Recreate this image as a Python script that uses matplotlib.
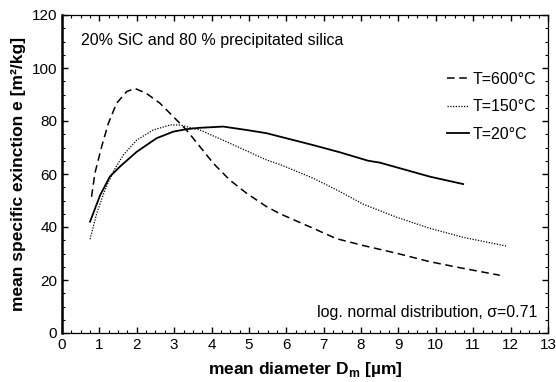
import numpy as np
import matplotlib
matplotlib.use("Agg")
import matplotlib.pyplot as plt
from matplotlib.ticker import MultipleLocator

plt.rcParams['font.family'] = ['Liberation Sans', 'DejaVu Sans']

# T = 600 °C (dashed)
x600 = [0.79, 0.88, 1.06, 1.24, 1.46, 1.73, 1.95, 2.26, 2.62, 2.98, 3.33, 3.69, 4.05, 4.49, 4.94, 5.47, 5.83, 6.72, 7.34, 8.06, 8.95, 9.84, 10.73, 11.71]
y600 = [51.4, 60.3, 70.3, 79.1, 86.7, 91.1, 92.3, 90.4, 86.7, 81.6, 76.6, 70.3, 64.0, 57.7, 52.7, 47.7, 45.0, 39.5, 35.6, 33.0, 30.1, 26.9, 24.4, 21.8]

# T = 150 °C (dotted)
x150 = [0.75, 0.93, 1.15, 1.37, 1.64, 2.0, 2.44, 2.89, 3.16, 3.69, 4.49, 5.47, 5.83, 6.72, 7.43, 8.06, 8.95, 9.84, 10.73, 11.89]
y150 = [35.4, 45.2, 54.0, 60.9, 67.2, 72.8, 76.6, 78.5, 78.5, 76.6, 71.6, 65.3, 63.6, 58.4, 53.4, 48.6, 43.7, 39.5, 36.1, 32.8]

# T = 20 °C (solid)
x20 = [0.75, 1.02, 1.28, 1.55, 2.0, 2.53, 2.98, 3.33, 3.65, 4.31, 4.94, 5.47, 5.83, 6.72, 7.43, 8.19, 8.5, 9.84, 10.73]
y20 = [42.0, 52.0, 59.0, 62.8, 68.4, 73.5, 76.0, 76.9, 77.4, 77.9, 76.6, 75.4, 74.1, 70.9, 68.2, 65.0, 64.3, 59.0, 56.2]

xticks = list(range(0, 14))
yticks = [0, 20, 40, 60, 80, 100, 120]

fig = plt.figure(figsize=(5.56, 3.82), dpi=100)
ax = fig.add_axes([62/556, 1-333/382, (548-62)/556, (333-15)/382])

ax.plot(x600, y600, color='black', lw=1.1, ls=(0, (5, 3)), label='T=600°C')
ax.plot(x150, y150, color='black', lw=0.9, ls=(0, (1, 1.2)), label='T=150°C')
ax.plot(x20, y20, color='black', lw=1.3, ls='-', label='T=20°C')

ax.set_xlim(0, 13)
ax.set_ylim(0, 120)
ax.set_xticks(xticks)
ax.set_yticks(yticks)
ax.xaxis.set_minor_locator(MultipleLocator(0.25))
ax.yaxis.set_minor_locator(MultipleLocator(5))
ax.tick_params(which='both', direction='in', top=True, right=True, labelsize=11)
ax.tick_params(which='major', length=4, width=1)
ax.tick_params(which='minor', length=2, width=0.8)
for s in ['top', 'right', 'bottom']:
    ax.spines[s].set_linewidth(0.9)
ax.spines['left'].set_linewidth(1.8)

ax.set_xlabel('mean diameter D$_\\mathregular{m}$ [µm]', fontsize=12.5, fontweight='bold', labelpad=6)
ax.set_ylabel('mean specific exinction e [m²/kg]', fontsize=12.5, fontweight='bold', labelpad=4)

ax.text(81/556, 1-40/382, '20% SiC and 80 % precipitated silica', transform=fig.transFigure,
        fontsize=11.5, ha='left', va='center')
ax.text(537/556, 1-313/382, 'log. normal distribution, σ=0.71', transform=fig.transFigure,
        fontsize=11.5, ha='right', va='center')

leg = ax.legend(loc='upper left', bbox_to_anchor=(447/556, 1-72/382),
                bbox_transform=fig.transFigure, frameon=False, fontsize=11.5,
                handlelength=1.4, handletextpad=0.2, labelspacing=0.78,
                borderpad=0, borderaxespad=0)

fig.savefig('out.png', dpi=100)
